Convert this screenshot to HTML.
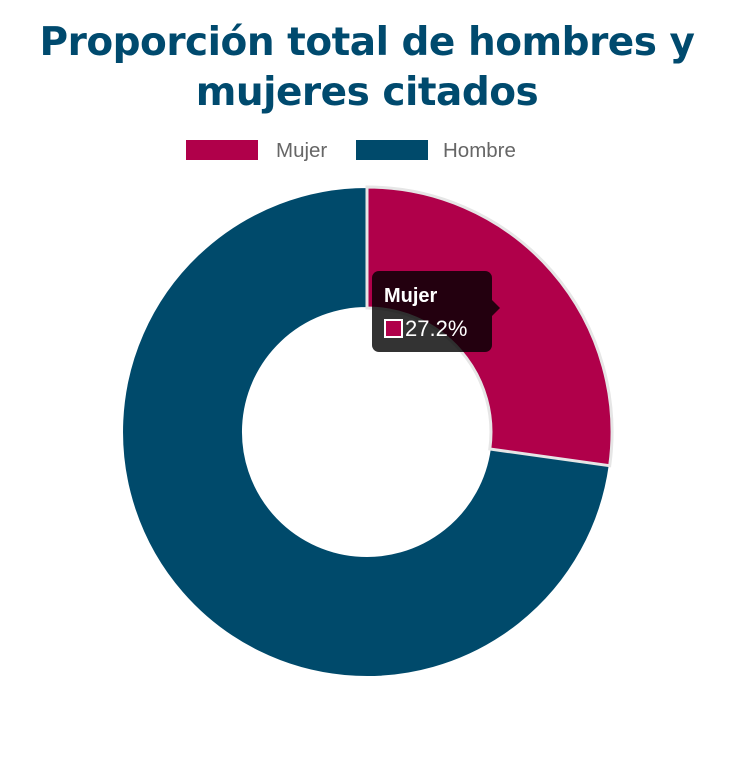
<!DOCTYPE html>
<html><head><meta charset="utf-8"><style>
body{margin:0;width:750px;height:763px;background:#fff;overflow:hidden;position:relative;font-family:"Liberation Sans",sans-serif}
.t{position:absolute;top:18px;left:-8px;width:750px;text-align:center;color:#004a6e;font-weight:bold;font-size:39px;line-height:50px;font-family:"DejaVu Sans","Liberation Sans",sans-serif;letter-spacing:-0.5px}
.lg{position:absolute;top:140px;height:21px;font-size:20.5px;color:#666;line-height:22px}
.bx{position:absolute;top:140px;width:72px;height:20px}
.tip{position:absolute;left:372px;top:271px;width:120px;height:81px;background:rgba(0,0,0,0.8);border-radius:7px;color:#fff}
</style></head><body>
<div class="t">Proporción total de hombres y<br>mujeres citados</div>
<div class="bx" style="left:186px;background:#b0004a"></div>
<div class="lg" style="left:276px">Mujer</div>
<div class="bx" style="left:356px;background:#004a6b"></div>
<div class="lg" style="left:443px">Hombre</div>
<svg width="750" height="763" style="position:absolute;left:0;top:0">
<path d="M367 187 A245 245 0 1 0 609.7 465.7 L489.8 449 A124 124 0 1 1 367 308 Z" fill="#004a6b" stroke="#fff" stroke-width="2"/>
<path d="M367 187 A245 245 0 0 1 609.7 465.7 L489.8 449 A124 124 0 0 0 367 308 Z" fill="#b0004a" stroke="#e6e6e6" stroke-width="3"/>
</svg>
<div class="tip">
<div style="position:absolute;left:120px;top:29px;width:0;height:0;border-top:8px solid transparent;border-bottom:8px solid transparent;border-left:8px solid rgba(0,0,0,0.8)"></div>
<div style="position:absolute;left:12px;top:14px;font-weight:bold;font-size:20px">Mujer</div>
<div style="position:absolute;left:12px;top:48px;width:19px;height:19px;background:#b0004a;border:2px solid #fff;box-sizing:border-box"></div>
<div style="position:absolute;left:33px;top:45px;font-size:22px">27.2%</div>
</div>
</body></html>
